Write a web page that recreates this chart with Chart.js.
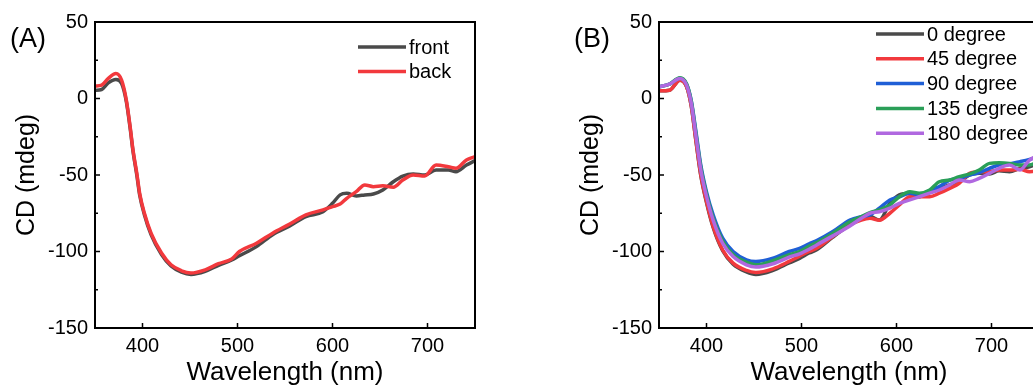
<!DOCTYPE html>
<html>
<head>
<meta charset="utf-8">
<script src="https://cdn.jsdelivr.net/npm/chart.js@4"></script>
<style>
  html, body { margin: 0; padding: 0; width: 1033px; height: 390px; overflow: hidden; background: #fff; }
  .panel { position: absolute; top: 0; width: 520px; height: 390px; }
  #panelA { left: 0; }
  #panelB { left: 564px; }
</style>
</head>
<body>
<div class="panel" id="panelA"><canvas id="chartA" width="520" height="390"></canvas></div>
<div class="panel" id="panelB"><canvas id="chartB" width="520" height="390"></canvas></div>
<script>
// panel (A): front / back
const wlA = [350, 357, 364, 372, 378, 383, 387, 390, 394, 397, 402, 409, 420, 430, 441, 451, 466, 480, 494, 502,
    520, 537, 555, 572, 590, 600, 608, 615, 625, 634, 643, 653, 664, 674, 685, 697, 709, 722, 730, 741, 750];
const front = [5.4, 5.9, 10.2, 12.4, 9.8, -2, -19.5, -34.5, -50, -63, -76, -89, -102, -109.5, -113.5, -115, -113, -109, -105.5, -102.8,
    -96.8, -89, -83.3, -77.2, -74, -68.5, -63, -62, -63.7, -63, -62.4, -59.8, -54.4, -50.7, -49.3, -50, -46.7, -46.7, -47.8, -43.5, -40.6];
const back = [8.1, 8.7, 13.1, 16.3, 12.0, -1.1, -18.5, -33.7, -48.9, -62, -75, -88, -101, -108.7, -112.6, -114.1, -112, -108, -104.8, -100,
    -94.6, -88, -82, -76, -72.8, -70.7, -69, -65.2, -60.9, -56.5, -57.6, -57, -58, -53.3, -50, -50.7, -43.5, -44.6, -45.6, -40.2, -38];

// panel (B): rotation angle
const wlB = [350, 361, 372, 379, 384, 389, 394, 400, 407, 417, 428, 442, 452, 470, 487, 498, 508, 516, 533, 551,
    563, 572, 582, 593, 603, 614, 624, 635, 645, 656, 666, 677, 687, 698, 708, 719, 730, 740, 750];
const deg0 = [5.0, 5.4, 12, 7.8, -5, -28.3, -50.5, -68, -84.3, -99.5, -108.3, -113.3, -115, -112.3, -107.5, -104.5, -101, -98.9, -90.6, -82.6,
    -78.5, -77, -79.4, -68.5, -63, -61.9, -64.2, -60.9, -58.7, -56.5, -54.4, -50, -48.9, -49.3, -47.2, -47.8, -45.6, -44.6, -42];
const deg45 = [5.0, 5.4, 12, 7.8, -5, -28.3, -50, -67.4, -83.7, -99, -107.6, -112.4, -113.7, -111.3, -106.5, -103, -100, -97.9, -90.2, -82.6,
    -79.4, -78.3, -79.5, -75, -69.6, -64.2, -64.2, -64.2, -61.9, -58.7, -55.4, -48.9, -47.8, -47.8, -46.7, -46.7, -46.3, -47.8, -47];
const deg90 = [7.6, 9.4, 13.3, 9.5, -1.5, -22, -43.5, -61, -76, -91.3, -100, -105.4, -106.5, -104.3, -100, -98, -95, -92.9, -87, -79.5,
    -77.2, -76.1, -71.7, -66.3, -64.2, -61.9, -63, -60.2, -57.6, -53.3, -52.2, -50, -48.5, -45.6, -43.5, -42.8, -41.3, -39.8, -38];
const deg135 = [7.6, 9.4, 13.5, 9.5, -2, -23.5, -45, -62.5, -78, -93, -102, -107, -108.7, -106, -102, -100, -96.5, -94.2, -88, -80.5,
    -77.2, -74.6, -72.8, -69.6, -64.2, -60.9, -61.9, -59.8, -54.4, -53.3, -51.1, -49.3, -46.7, -42.4, -42, -42.4, -43.5, -43.5, -41];
const deg180 = [7.6, 9.4, 13, 8.7, -3.2, -25, -46.7, -64, -79.5, -94.6, -103.3, -108.7, -110.2, -108, -103.7, -101.5, -98.5, -95.7, -89.8, -83.3,
    -78.3, -75, -74, -71.7, -68.5, -66.3, -64.2, -61.9, -59.8, -56.5, -53.3, -54.4, -52.2, -48.9, -45.6, -43.5, -46.7, -40.2, -37];

const xTicks = [400, 500, 600, 700];
const yTicks = [-150, -100, -50, 0, 50];
const yMinorTicks = [-125, -75, -25, 25];

Chart.defaults.font.family = '"Liberation Sans", Arial, sans-serif';
Chart.defaults.color = '#000';

function toPoints(xs, ys) {
    return xs.map((x, i) => ({ x: x, y: ys[i] }));
}

function makeDataset(label, xs, ys, color, order) {
    return {
        label: label,
        data: toPoints(xs, ys),
        borderColor: color,
        backgroundColor: color,
        borderWidth: 3.5,
        pointRadius: 0,
        cubicInterpolationMode: 'monotone',
        order: order
    };
}

// box frame, inward ticks, legend and panel letter
const framePlugin = {
    id: 'frame',
    afterDraw(chart, args, opts) {
        const { ctx, chartArea: a, scales } = chart;
        ctx.save();
        ctx.strokeStyle = '#000';
        ctx.lineWidth = 2;
        ctx.strokeRect(a.left, a.top, a.right - a.left, a.bottom - a.top);

        ctx.lineWidth = 1.5;
        ctx.beginPath();
        xTicks.forEach(v => {
            const px = scales.x.getPixelForValue(v);
            ctx.moveTo(px, a.bottom);
            ctx.lineTo(px, a.bottom - 5);
        });
        yTicks.forEach(v => {
            const py = scales.y.getPixelForValue(v);
            ctx.moveTo(a.left, py);
            ctx.lineTo(a.left + 5, py);
        });
        yMinorTicks.forEach(v => {
            const py = scales.y.getPixelForValue(v);
            ctx.moveTo(a.left, py);
            ctx.lineTo(a.left + 3, py);
        });
        ctx.stroke();

        // legend
        ctx.font = '20px "Liberation Sans", Arial, sans-serif';
        ctx.textBaseline = 'middle';
        ctx.textAlign = 'left';
        chart.data.datasets.forEach((ds, i) => {
            const y = opts.legendY + i * opts.legendGap;
            ctx.strokeStyle = ds.borderColor;
            ctx.lineWidth = 3.5;
            ctx.beginPath();
            ctx.moveTo(opts.legendX, y);
            ctx.lineTo(opts.legendX + 48, y);
            ctx.stroke();
            ctx.fillStyle = '#000';
            ctx.fillText(ds.label, opts.legendX + 51, y + 1);
        });

        // panel letter
        ctx.font = '27px "Liberation Sans", Arial, sans-serif';
        ctx.fillText(opts.letter, 10, 40);
        ctx.restore();
    }
};

function makeOptions(frame) {
    return {
        responsive: false,
        animation: false,
        layout: { padding: { left: 0, top: 22, right: 45, bottom: 0 } },
        plugins: {
            legend: { display: false },
            tooltip: { enabled: false },
            frame: frame
        },
        scales: {
            x: {
                type: 'linear',
                min: 350,
                max: 750,
                grid: { display: false, drawTicks: false },
                border: { display: false },
                afterBuildTicks: scale => { scale.ticks = xTicks.map(v => ({ value: v })); },
                afterFit: scale => { scale.height = 62; },
                ticks: { font: { size: 20 }, padding: 6 },
                title: { display: true, text: 'Wavelength (nm)', font: { size: 26 }, padding: { top: 0, bottom: 2 } }
            },
            y: {
                min: -150,
                max: 50,
                grid: { display: false, drawTicks: false },
                border: { display: false },
                afterBuildTicks: scale => { scale.ticks = yTicks.map(v => ({ value: v })); },
                afterFit: scale => { scale.width = 95; },
                ticks: { font: { size: 20 }, padding: 7 },
                title: { display: true, text: 'CD (mdeg)', font: { size: 25 }, padding: { top: 12, bottom: 0 } }
            }
        }
    };
}

new Chart(document.getElementById('chartA'), {
    type: 'line',
    data: {
        datasets: [
            makeDataset('front', wlA, front, '#4a4a4a', 2),
            makeDataset('back', wlA, back, '#f2393d', 1)
        ]
    },
    options: makeOptions({ legendX: 358, legendY: 47, legendGap: 24.5, letter: '(A)' }),
    plugins: [framePlugin]
});

new Chart(document.getElementById('chartB'), {
    type: 'line',
    data: {
        datasets: [
            makeDataset('0 degree', wlB, deg0, '#4a4a4a', 5),
            makeDataset('45 degree', wlB, deg45, '#f2393d', 4),
            makeDataset('90 degree', wlB, deg90, '#1f5fd6', 3),
            makeDataset('135 degree', wlB, deg135, '#2a9f58', 2),
            makeDataset('180 degree', wlB, deg180, '#b068e0', 1)
        ]
    },
    options: makeOptions({ legendX: 312, legendY: 34, legendGap: 24.8, letter: '(B)' }),
    plugins: [framePlugin]
});
</script>
</body>
</html>
